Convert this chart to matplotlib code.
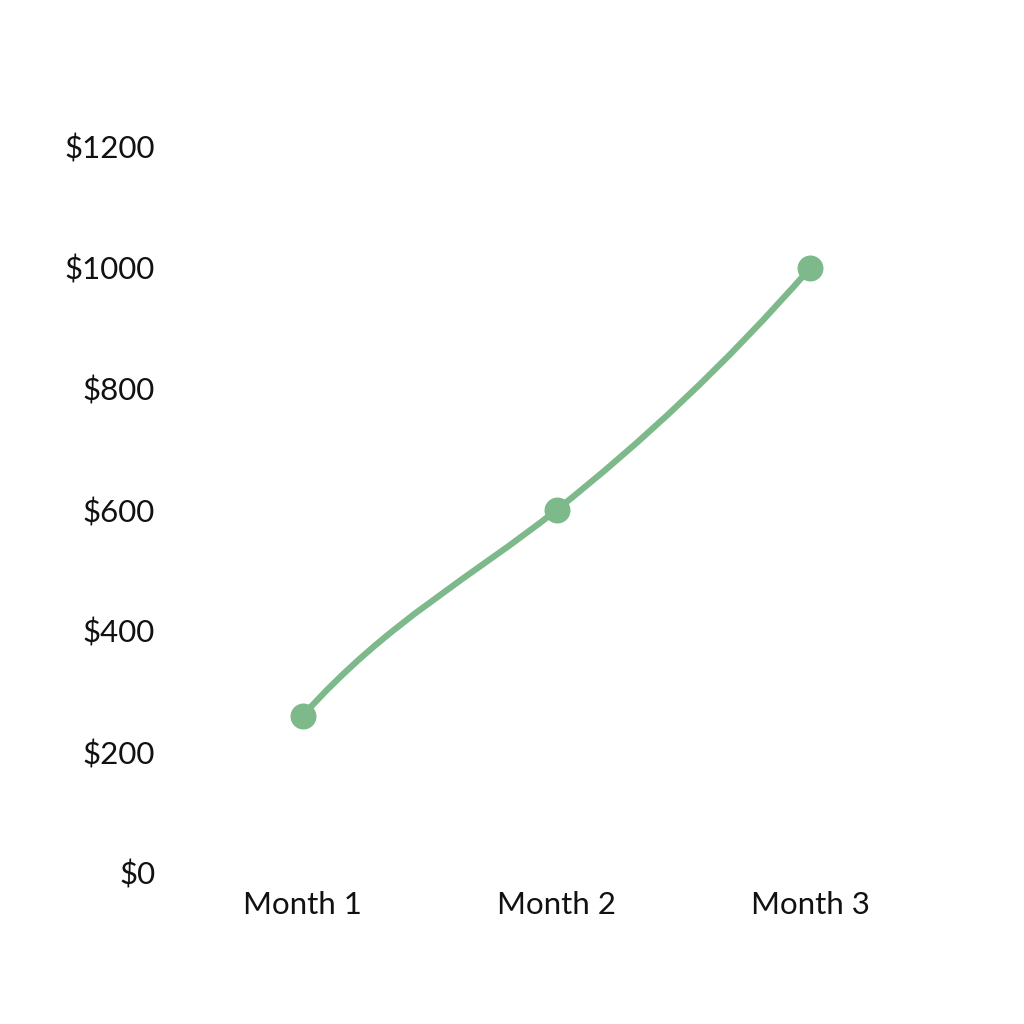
import numpy as np
import matplotlib
matplotlib.use("Agg")
import matplotlib.pyplot as plt
from matplotlib.path import Path
from matplotlib.patches import PathPatch

categories = ["Month 1", "Month 2", "Month 3"]
values = [260, 600, 1000]
yticks = [0, 200, 400, 600, 800, 1000, 1200]
ytick_labels = ["$0", "$200", "$400", "$600", "$800", "$1000", "$1200"]

color = "#7db98a"
plt.rcParams['font.family'] = ['Lato', 'DejaVu Sans']

fig = plt.figure(figsize=(10.24, 10.24), dpi=100)
ax = fig.add_axes([176/1024, (1024-873)/1024, 761/1024, 726/1024])

x = np.arange(len(categories), dtype=float)
y = np.array(values, dtype=float)

# Cubic Hermite smoothing (curve shape: tangent factors relative to chords)
n = len(x)
s = np.diff(y) / np.diff(x)
t = np.zeros(n)
t[0] = 1.38 * s[0]
t[-1] = 1.2 * s[-1]
for i in range(1, n - 1):
    t[i] = 0.9 * (s[i-1] + s[i]) / 2
verts = [(x[0], y[0])]
codes = [Path.MOVETO]
for i in range(n - 1):
    dx = (x[i+1] - x[i]) / 3
    verts += [(x[i] + dx, y[i] + dx * t[i]), (x[i+1] - dx, y[i+1] - dx * t[i+1]), (x[i+1], y[i+1])]
    codes += [Path.CURVE4] * 3
ax.add_patch(PathPatch(Path(verts, codes), facecolor="none", edgecolor=color, lw=4.5, capstyle="round"))
ax.scatter(x, y, s=350, color=color, zorder=3, linewidths=0)

ax.set_xlim(-0.5, 2.5)
ax.set_ylim(0, 1200)
ax.set_xticks(x)
ax.set_xticklabels(categories)
ax.set_yticks(yticks)
ax.set_yticklabels(ytick_labels)
ax.tick_params(axis="both", length=0, labelsize=22.5, colors="#111111")
ax.tick_params(axis="y", pad=15)
ax.tick_params(axis="x", pad=13)
for sp in ax.spines.values():
    sp.set_visible(False)

fig.savefig("out.png", dpi=100, facecolor="white")
